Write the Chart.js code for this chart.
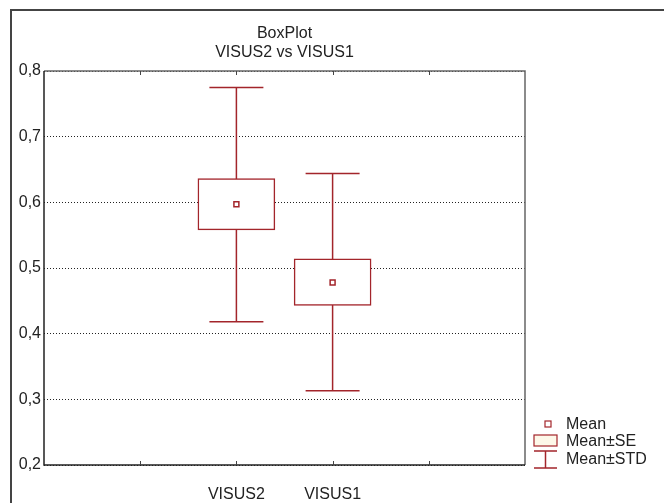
<!DOCTYPE html>
<html>
<head>
<meta charset="utf-8">
<script src="https://cdn.jsdelivr.net/npm/chart.js@4"></script>
<style>
  html, body { margin: 0; padding: 0; background: #fff; }
  #wrap { position: relative; width: 664px; height: 503px; }
</style>
</head>
<body>
<div id="wrap"><canvas id="boxChart"></canvas></div>
<script>
// categories sit on the 2nd and 3rd inner ticks of a 5-slot axis
const categories = ['', '', 'VISUS2', 'VISUS1', '', ''];
const means   = [null, null, 0.597, 0.478, null, null];
const seLow   = [null, null, 0.558, 0.443, null, null];
const seHigh  = [null, null, 0.636, 0.514, null, null];
const stdLow  = [null, null, 0.418, 0.313, null, null];
const stdHigh = [null, null, 0.775, 0.644, null, null];
const yTicks  = [0.2, 0.3, 0.4, 0.5, 0.6, 0.7, 0.8];

const RED = '#a3252b';
const TEXT = '#222';
const FONT = '"Liberation Sans", Arial, sans-serif';

// whiskers behind the boxes, frame, ticks, title and legend on top
const boxPlotDecor = {
    id: 'boxPlotDecor',
    beforeDatasetsDraw(chart) {
        const { ctx, scales: { x, y } } = chart;
        ctx.save();
        ctx.strokeStyle = RED;
        ctx.lineWidth = 1.5;
        categories.forEach((c, i) => {
            if (stdLow[i] == null) return;
            const px = x.getPixelForValue(i);
            const top = y.getPixelForValue(stdHigh[i]);
            const bot = y.getPixelForValue(stdLow[i]);
            ctx.beginPath();
            ctx.moveTo(px, top); ctx.lineTo(px, bot);
            ctx.moveTo(px - 27, top); ctx.lineTo(px + 27, top);
            ctx.moveTo(px - 27, bot); ctx.lineTo(px + 27, bot);
            ctx.stroke();
        });
        ctx.restore();
    },
    afterDraw(chart) {
        const { ctx, chartArea: a, scales: { x } } = chart;
        ctx.save();
        // outer frame
        ctx.strokeStyle = '#444';
        ctx.lineWidth = 2;
        ctx.strokeRect(11, 10, 700, 520);
        // plot frame: grey top/right, darker left/bottom
        ctx.lineWidth = 1.5;
        ctx.strokeStyle = '#666';
        ctx.beginPath();
        ctx.moveTo(a.left, a.top); ctx.lineTo(a.right, a.top); ctx.lineTo(a.right, a.bottom);
        ctx.stroke();
        ctx.strokeStyle = '#222';
        ctx.beginPath();
        ctx.moveTo(a.left, a.top); ctx.lineTo(a.left, a.bottom); ctx.lineTo(a.right, a.bottom);
        ctx.stroke();
        // inward tick marks top and bottom
        ctx.lineWidth = 1;
        ctx.strokeStyle = '#444';
        for (let i = 1; i < categories.length - 1; i++) {
            const px = Math.round(x.getPixelForValue(i)) + 0.5;
            ctx.beginPath();
            ctx.moveTo(px, a.top); ctx.lineTo(px, a.top + 4);
            ctx.moveTo(px, a.bottom); ctx.lineTo(px, a.bottom - 4);
            ctx.stroke();
        }
        // title
        ctx.fillStyle = TEXT;
        ctx.font = '16px ' + FONT;
        ctx.textAlign = 'center';
        ctx.textBaseline = 'middle';
        const cx = (a.left + a.right) / 2;
        ctx.fillText('BoxPlot', cx, 34);
        ctx.fillText('VISUS2 vs VISUS1', cx, 53);
        // legend
        ctx.textAlign = 'left';
        ctx.fillText('Mean', 566, 425);
        ctx.fillText('Mean\u00b1SE', 566, 442);
        ctx.fillText('Mean\u00b1STD', 566, 460);
        ctx.strokeStyle = RED;
        ctx.lineWidth = 1.2;
        ctx.fillStyle = '#fff';
        ctx.fillRect(545, 421, 6, 6);
        ctx.strokeRect(545, 421, 6, 6);
        ctx.fillStyle = '#fdf8e9';
        ctx.fillRect(534, 435, 23, 11);
        ctx.strokeRect(534, 435, 23, 11);
        ctx.lineWidth = 1.5;
        ctx.beginPath();
        ctx.moveTo(534, 451); ctx.lineTo(557, 451);
        ctx.moveTo(534, 468); ctx.lineTo(557, 468);
        ctx.moveTo(545.5, 451); ctx.lineTo(545.5, 468);
        ctx.stroke();
        ctx.restore();
    }
};

const ctx = document.getElementById('boxChart').getContext('2d');
const chart = new Chart(ctx, {
    data: {
        labels: categories,
        datasets: [{
            type: 'scatter',
            label: 'Mean',
            data: means,
            pointStyle: 'rect',
            pointRadius: 3.5,
            pointBackgroundColor: '#fff',
            pointBorderColor: RED,
            pointBorderWidth: 1.5,
            showLine: false
        }, {
            type: 'bar',
            label: 'Mean\u00b1SE',
            data: categories.map((c, i) => seLow[i] == null ? null : [seLow[i], seHigh[i]]),
            backgroundColor: '#fff',
            borderColor: RED,
            borderWidth: 1.5,
            borderSkipped: false,
            barThickness: 77,
            grouped: false
        }]
    },
    options: {
        responsive: true,
        maintainAspectRatio: false,
        animation: false,
        layout: { padding: { top: 71, right: 139, left: 0, bottom: 0 } },
        plugins: {
            legend: { display: false },
            title: { display: false },
            tooltip: { enabled: false }
        },
        scales: {
            x: {
                type: 'category',
                offset: false,
                grid: { display: false },
                border: { display: false },
                ticks: {
                    autoSkip: false,
                    maxRotation: 0,
                    padding: 12,
                    color: TEXT,
                    font: { family: FONT, size: 16 }
                },
                afterFit(scale) { scale.height = 38; }
            },
            y: {
                min: 0.2,
                max: 0.8,
                afterBuildTicks(scale) { scale.ticks = yTicks.map(v => ({ value: v })); },
                grid: {
                    color: '#222',
                    lineWidth: 1,
                    drawTicks: false
                },
                border: { display: false, dash: [1, 2] },
                ticks: {
                    padding: 3,
                    color: TEXT,
                    font: { family: FONT, size: 16 },
                    callback: v => v.toFixed(1).replace('.', ',')
                },
                afterFit(scale) { scale.width = 44; }
            }
        }
    },
    plugins: [boxPlotDecor]
});
</script>
</body>
</html>
